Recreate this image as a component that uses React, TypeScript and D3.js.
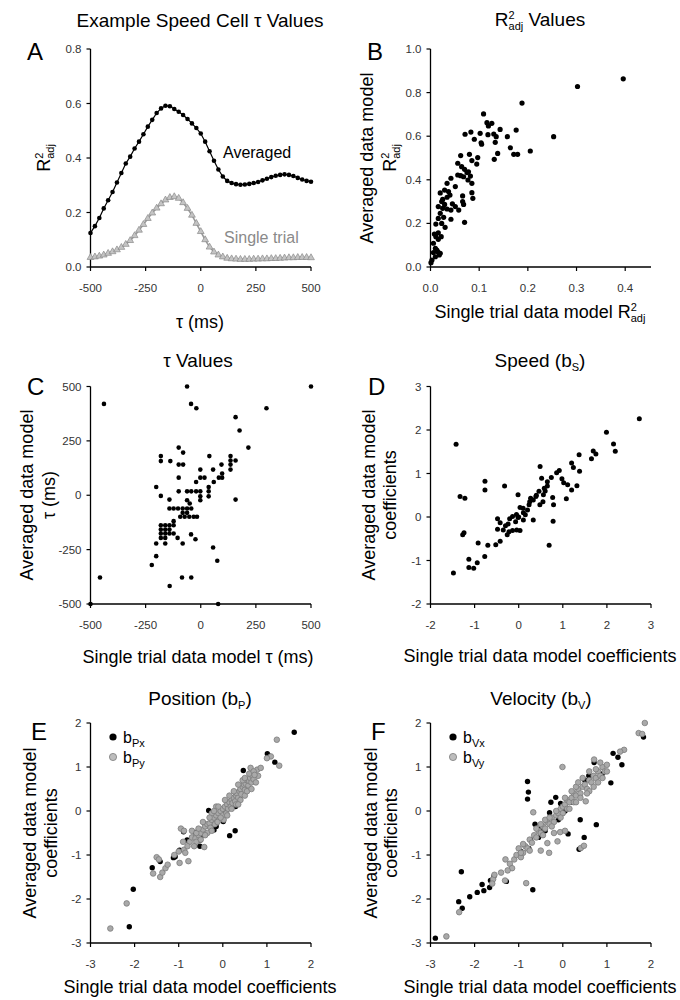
import React from 'react';
import * as d3 from 'd3';

const FONT = '"Liberation Sans", Arial, Helvetica, sans-serif';

// ---------- Panel A data ----------
const tauGrid = [-500,-480,-460,-440,-420,-400,-380,-360,-340,-320,-300,-280,-260,-240,-220,-200,-180,-160,-140,-120,-100,-80,-60,-40,-20,0,20,40,60,80,100,120,140,160,180,200,220,240,260,280,300,320,340,360,380,400,420,440,460,480,500];
const averagedR2 = [0.125,0.15,0.18,0.215,0.245,0.275,0.31,0.345,0.38,0.405,0.435,0.46,0.487,0.515,0.54,0.565,0.582,0.592,0.59,0.58,0.57,0.558,0.543,0.527,0.51,0.49,0.46,0.425,0.39,0.358,0.332,0.316,0.308,0.304,0.302,0.303,0.305,0.308,0.312,0.318,0.324,0.33,0.335,0.338,0.34,0.338,0.334,0.327,0.321,0.316,0.313];
const singleR2 = [0.035,0.037,0.04,0.044,0.05,0.056,0.063,0.072,0.083,0.097,0.115,0.135,0.156,0.178,0.198,0.216,0.232,0.246,0.255,0.258,0.252,0.236,0.215,0.19,0.16,0.13,0.1,0.073,0.055,0.044,0.037,0.032,0.03,0.029,0.028,0.028,0.028,0.029,0.029,0.03,0.03,0.031,0.031,0.032,0.033,0.034,0.034,0.035,0.035,0.035,0.034];
const ticksA_x = [-500,-250,0,250,500];
const ticksA_y = [0,0.2,0.4,0.6,0.8];

// ---------- Panel B data ----------
const r2Points: [number, number][] = [[0.109,0.702],[0.116,0.662],[0.126,0.659],[0.119,0.647],[0.143,0.631],[0.176,0.628],[0.071,0.609],[0.083,0.619],[0.102,0.613],[0.118,0.607],[0.130,0.610],[0.135,0.598],[0.133,0.572],[0.158,0.598],[0.090,0.586],[0.104,0.570],[0.105,0.563],[0.164,0.547],[0.138,0.521],[0.131,0.494],[0.171,0.517],[0.179,0.517],[0.205,0.532],[0.062,0.511],[0.080,0.517],[0.097,0.502],[0.095,0.472],[0.085,0.488],[0.056,0.476],[0.064,0.460],[0.070,0.448],[0.075,0.433],[0.078,0.437],[0.056,0.422],[0.062,0.419],[0.068,0.414],[0.082,0.417],[0.077,0.399],[0.085,0.384],[0.042,0.407],[0.034,0.384],[0.051,0.369],[0.029,0.353],[0.037,0.346],[0.040,0.330],[0.034,0.320],[0.085,0.341],[0.087,0.315],[0.066,0.326],[0.066,0.300],[0.068,0.287],[0.023,0.300],[0.029,0.287],[0.016,0.277],[0.025,0.269],[0.034,0.266],[0.042,0.261],[0.051,0.277],[0.058,0.261],[0.020,0.246],[0.016,0.223],[0.027,0.228],[0.042,0.219],[0.023,0.200],[0.030,0.182],[0.070,0.205],[0.011,0.197],[0.008,0.151],[0.016,0.157],[0.011,0.139],[0.022,0.139],[0.016,0.127],[0.006,0.109],[0.010,0.086],[0.013,0.078],[0.020,0.063],[0.006,0.066],[0.010,0.047],[0.003,0.032],[0.001,0.020],[0.188,0.752],[0.253,0.598],[0.302,0.828],[0.396,0.863],[0.015,0.070],[0.018,0.055],[0.025,0.310],[0.045,0.290],[0.020,0.340]];
const ticksB_x = [0,0.1,0.2,0.3,0.4];
const ticksB_y = [0,0.2,0.4,0.6,0.8,1.0];

// ---------- Panel C data ----------
const tauPoints: [number, number][] = [[158,359],[176,298],[216,219],[-100,219],[-80,196],[-181,180],[-181,157],[-138,157],[-100,141],[-80,141],[39,180],[135,180],[135,160],[158,160],[135,141],[135,118],[94,141],[56,118],[-2,118],[-100,81],[-21,61],[-2,81],[17,81],[59,61],[82,81],[97,81],[97,100],[36,38],[36,18],[36,-5],[-202,38],[-181,-3],[-142,-20],[-100,18],[-62,18],[-43,18],[-21,18],[-2,18],[-2,-5],[-2,-23],[-62,-23],[-50,-38],[158,-20],[-142,-61],[-123,-61],[-103,-61],[-82,-61],[-62,-61],[-43,-61],[-82,-81],[-62,-81],[-93,-99],[-73,-99],[-52,-99],[-32,-99],[-17,-99],[-123,-119],[-181,-138],[-161,-138],[-142,-138],[-123,-138],[-181,-158],[-161,-158],[-142,-158],[-181,-176],[-161,-176],[-142,-176],[-123,-176],[-181,-196],[-161,-196],[-105,-196],[-44,-180],[-24,-202],[-82,-222],[-161,-222],[-202,-222],[-202,-280],[-222,-321],[56,-240],[75,-301],[-62,500],[500,500],[-439,420],[-44,420],[-20,400],[298,400],[-457,-378],[-500,-500],[79,-500],[-141,-417],[-85,-378],[-43,-378]];
const ticksC = [-500,-250,0,250,500];

// ---------- Panel D data ----------
const speedPoints: [number, number][] = [[2.735,2.256],[1.99,1.95],[2.15,1.68],[2.19,1.51],[-1.42,1.67],[1.69,1.52],[1.75,1.45],[1.65,1.34],[1.37,1.43],[1.20,1.24],[1.24,1.14],[1.38,1.05],[0.485,1.16],[0.92,1.07],[0.86,1.02],[-0.765,0.82],[-0.765,0.62],[-0.32,0.71],[0.52,0.89],[0.74,0.91],[0.65,0.81],[0.98,0.88],[1.02,0.79],[1.11,0.74],[1.20,0.62],[1.32,0.72],[1.08,0.42],[-1.33,0.47],[-1.22,0.43],[0.58,0.66],[0.65,0.71],[-0.015,0.51],[0.46,0.59],[0.39,0.47],[0.56,0.51],[0.27,0.43],[0.33,0.39],[0.77,0.45],[0.79,0.28],[0.48,0.28],[0.235,0.28],[0.03,0.22],[0.20,0.16],[0.106,0.10],[-0.05,0.06],[-0.14,0.01],[-0.015,-0.01],[-0.205,-0.04],[-0.48,-0.04],[-0.42,-0.13],[-0.24,-0.16],[-0.07,-0.11],[0.106,-0.07],[0.33,-0.07],[0.78,-0.10],[-0.48,-0.28],[-0.35,-0.30],[-0.22,-0.34],[-0.14,-0.31],[-0.045,-0.30],[0.03,-0.31],[-0.26,-0.41],[-0.42,-0.56],[-0.52,-0.64],[-0.70,-0.65],[-0.92,-0.60],[0.69,-0.65],[-1.24,-0.36],[-1.27,-0.41],[-1.13,-0.97],[-1.13,-1.16],[-1.02,-1.18],[-0.94,-1.05],[-0.77,-0.91],[-1.48,-1.29],[0.15,0.05],[0.25,0.35],[0.40,0.50],[0.60,0.60],[-0.30,-0.20],[0.00,0.00],[0.10,0.20],[0.55,0.35]];
const ticksD = [-2,-1,0,1,2,3];

// ---------- Panel E data ----------
const posXPoints: [number, number][] = [[1.62,1.79],[1.01,1.30],[1.18,1.11],[1.05,1.25],[0.465,0.92],[0.67,0.74],[0.56,0.60],[0.36,0.44],[0.29,0.10],[0.20,0.30],[-0.32,0.01],[0.01,-0.24],[-0.24,-0.27],[-0.20,-0.43],[0.28,-0.45],[0.155,-0.56],[-0.62,-0.49],[-0.89,-0.47],[-0.81,-0.66],[-0.51,-0.66],[-0.52,-0.80],[-0.98,-0.89],[-1.08,-1.04],[-1.12,-1.06],[-1.42,-1.15],[-1.60,-1.29],[-2.03,-1.78],[-2.12,-2.63],[-0.47,-0.55],[-0.10,-0.10],[0.10,0.05],[-0.40,-0.30],[-0.70,-0.60],[-0.30,-0.35],[0.05,-0.05],[-0.15,-0.35],[0.40,0.35],[0.15,0.20]];
const posYPoints: [number, number][] = [[-2.55,-2.67],[-2.18,-2.10],[-1.58,-1.42],[-1.42,-1.50],[-1.37,-1.40],[-1.30,-1.30],[-1.25,-1.22],[-1.50,-1.05],[-1.45,-1.10],[-0.98,-1.18],[-0.78,-1.14],[-1.00,-0.92],[-0.88,-0.88],[-0.95,-0.40],[-0.88,-0.45],[-0.75,-0.70],[-0.70,-0.60],[-0.62,-0.62],[-0.55,-0.55],[-0.50,-0.50],[-0.45,-0.42],[-0.42,-0.82],[-0.40,-0.35],[-0.35,-0.30],[-0.30,-0.28],[-0.28,-0.38],[-0.25,-0.20],[-0.20,-0.15],[-0.18,-0.30],[-0.15,-0.10],[-0.10,-0.05],[-0.08,-0.20],[-0.05,0.00],[0.00,0.05],[0.00,-0.10],[0.05,0.10],[0.08,-0.05],[0.10,0.15],[0.12,0.05],[0.15,0.20],[0.18,0.10],[0.20,0.25],[0.22,0.18],[0.25,0.30],[0.28,0.22],[0.30,0.35],[0.32,0.40],[0.35,0.30],[0.38,0.45],[0.40,0.50],[0.42,0.38],[0.45,0.55],[0.48,0.60],[0.50,0.48],[0.52,0.62],[0.55,0.70],[0.58,0.58],[0.60,0.68],[0.62,0.75],[0.65,0.65],[0.68,0.78],[0.70,0.72],[0.63,0.98],[0.78,0.94],[0.86,0.98],[0.80,0.80],[1.09,1.24],[1.00,1.20],[1.28,1.03],[1.225,1.62],[-0.60,-0.70],[-0.80,-0.80],[-1.10,-1.00],[-0.35,-0.50],[-0.12,-0.25],[0.02,-0.20],[-0.25,-0.05],[-0.15,0.10],[-0.90,-0.70],[-0.85,-0.95],[-0.70,-0.45],[-0.65,-0.80],[-0.60,-0.50],[-0.55,-0.40],[-0.50,-0.65],[-0.45,-0.25],[-0.40,-0.55],[-0.30,-0.15],[-0.25,-0.45],[-0.20,0.00],[-0.10,0.10],[-0.05,-0.15],[0.05,0.25],[0.10,-0.10],[0.15,0.35],[0.20,0.05],[0.25,0.45],[0.30,0.15],[0.35,0.60],[0.40,0.25],[0.45,0.70],[0.50,0.35],[0.55,0.45],[0.60,0.85],[0.65,0.50],[0.70,0.90],[0.75,0.65],[0.72,0.82],[0.50,0.75],[0.35,0.15]];

// ---------- Panel F data ----------
const velXPoints: [number, number][] = [[-0.80,0.67],[-0.78,0.43],[-0.80,0.27],[-0.27,0.20],[-0.16,0.31],[-0.05,0.17],[-0.30,-0.04],[-0.63,-0.30],[-0.50,-0.40],[-0.73,-0.66],[-0.77,-0.85],[-0.95,-0.92],[0.395,-0.20],[0.76,-0.31],[0.12,-0.52],[0.485,-0.60],[0.37,-0.87],[-0.68,-1.79],[-1.28,-1.60],[-1.56,-1.48],[-1.64,-1.58],[-1.66,-1.74],[-1.83,-1.67],[-1.79,-1.81],[-1.94,-1.85],[-2.11,-1.95],[-2.30,-1.38],[-2.36,-2.06],[-2.28,-2.21],[0.71,1.10],[0.59,0.80],[1.09,0.64],[1.14,1.31],[1.25,1.22],[1.34,1.05],[1.83,1.68],[-2.89,-2.89],[-0.10,-0.20],[0.05,0.00],[0.20,0.20],[0.50,0.70],[0.90,0.85],[-0.55,-0.60],[-0.40,-0.45]];
const velYPoints: [number, number][] = [[-2.64,-2.85],[-2.35,-2.30],[-1.58,-1.55],[-1.31,-1.58],[-0.83,-1.64],[-1.60,-1.65],[-1.55,-1.45],[-1.20,-1.20],[-1.15,-1.30],[-1.10,-1.10],[-1.05,-1.00],[-1.00,-0.85],[-0.95,-1.05],[-0.90,-0.95],[-0.85,-0.80],[-0.80,-0.85],[-0.75,-0.65],[-0.70,-0.72],[-0.67,-0.03],[-0.65,-0.55],[-0.60,-0.60],[-0.55,-0.45],[-0.50,-0.50],[-0.45,-0.35],[-0.40,-0.40],[-0.35,-0.73],[-0.31,-0.95],[-0.35,-0.25],[-0.30,-0.30],[-0.25,-0.15],[-0.20,-0.25],[-0.15,-0.10],[-0.12,-0.69],[-0.10,-0.05],[-0.06,-0.48],[-0.05,0.05],[0.00,-0.05],[0.00,0.10],[0.05,0.15],[0.10,0.05],[0.10,0.25],[0.15,0.20],[0.20,0.30],[0.25,0.20],[0.25,0.40],[0.30,0.35],[0.35,0.50],[0.40,0.40],[0.41,-0.84],[0.45,0.55],[0.48,-0.79],[0.50,0.60],[0.52,0.22],[0.55,0.50],[0.60,0.70],[0.65,0.65],[0.70,0.80],[0.71,1.17],[0.75,0.75],[0.80,0.90],[0.85,0.80],[0.90,1.00],[0.95,0.90],[1.00,1.05],[-0.008,1.00],[1.39,1.39],[1.30,1.35],[1.72,1.77],[1.86,2.00],[1.80,1.75],[-0.95,-0.95],[-0.40,-0.20],[0.30,0.55],[0.60,0.45],[-1.40,-1.40],[-1.30,-1.10],[-1.25,-1.35],[-0.90,-0.75],[-0.75,-0.90],[-0.60,-0.40],[-0.50,-0.30],[-0.45,-0.55],[-0.30,-0.15],[-0.25,-0.35],[-0.15,0.00],[-0.05,-0.15],[0.05,0.30],[0.15,0.05],[0.20,0.45],[0.30,0.20],[0.35,0.65],[0.40,0.30],[0.45,0.75],[0.55,0.40],[0.60,0.90],[0.70,0.55],[0.75,0.95],[0.80,0.65],[0.85,1.10],[0.90,0.75],[1.00,0.90],[-0.50,-0.90],[-0.20,-0.50],[0.05,-0.45]];
const ticksEF = [-3,-2,-1,0,1,2];

// ---------- layout ----------
const COL = [[90.5, 311], [430.5, 651]];
const ROW = [[267, 49], [604, 386.5], [943, 723]];

type Scale = d3.ScaleLinear<number, number>;

function Axes({ x, y, xTicks, yTicks, xFmt, yFmt }: { x: Scale; y: Scale; xTicks: number[]; yTicks: number[]; xFmt: (v: number) => string; yFmt: (v: number) => string }) {
  const [x0, x1] = x.range();
  const [y0, y1] = y.range();
  return (
    <g>
      <line x1={x0} x2={x1} y1={y0} y2={y0} stroke="#000" strokeWidth={1.3} />
      <line x1={x0} x2={x0} y1={y0} y2={y1} stroke="#000" strokeWidth={1.3} />
      {xTicks.map((t) => (
        <g key={'x' + t}>
          <line x1={x(t)} x2={x(t)} y1={y0} y2={y0 + 4} stroke="#000" strokeWidth={1.2} />
          <text x={x(t)} y={y0 + 24.5} textAnchor="middle" fontSize={11.5} fill="#333">{xFmt(t)}</text>
        </g>
      ))}
      {yTicks.map((t) => (
        <g key={'y' + t}>
          <line x1={x0 - 4} x2={x0} y1={y(t)} y2={y(t)} stroke="#000" strokeWidth={1.2} />
          <text x={x0 - 9} y={y(t) + 4} textAnchor="end" fontSize={11.5} fill="#333">{yFmt(t)}</text>
        </g>
      ))}
    </g>
  );
}

const R2adj = ({ after }: { after?: string }) => (
  <>
    <tspan>R</tspan>
    <tspan dy={-7} fontSize={11}>2</tspan>
    <tspan dx={-6.1} dy={11} fontSize={11}>adj</tspan>
    {after ? <tspan dy={-4}>{after}</tspan> : null}
  </>
);

const Sub = ({ base, sub, after }: { base: string; sub: string; after?: string }) => (
  <>
    <tspan>{base}</tspan>
    <tspan dy={4} fontSize={11}>{sub}</tspan>
    {after ? <tspan dy={-4}>{after}</tspan> : null}
  </>
);

function Dots({ pts, x, y, r, fill, stroke }: { pts: [number, number][]; x: Scale; y: Scale; r: number; fill: string; stroke?: string }) {
  return (
    <g>
      {pts.map((p, i) => (
        <circle key={i} cx={x(p[0])} cy={y(p[1])} r={r} fill={fill} stroke={stroke || 'none'} strokeWidth={0.8} />
      ))}
    </g>
  );
}

function YTitle({ x, y, children }: { x: number; y: number; children: React.ReactNode }) {
  return (
    <text transform={`translate(${x},${y}) rotate(-90)`} textAnchor="middle" fontSize={18}>{children}</text>
  );
}

export default function App() {
  const fmtInt = (v: number) => String(v);
  const fmt1 = (v: number) => v.toFixed(1);

  // Panel A
  const xA = d3.scaleLinear().domain([-500, 500]).range(COL[0]);
  const yA = d3.scaleLinear().domain([0, 0.8]).range(ROW[0]);
  const lineA = d3.line<number>().x((_, i) => xA(tauGrid[i])).y((d) => yA(d));
  const tri = d3.symbol().type(d3.symbolTriangle).size(20)();

  // Panel B
  const xB = d3.scaleLinear().domain([0, 0.453]).range(COL[1]);
  const yB = d3.scaleLinear().domain([0, 1]).range(ROW[0]);

  // Panel C
  const xC = d3.scaleLinear().domain([-500, 500]).range(COL[0]);
  const yC = d3.scaleLinear().domain([-500, 500]).range(ROW[1]);

  // Panel D
  const xD = d3.scaleLinear().domain([-2, 3]).range(COL[1]);
  const yD = d3.scaleLinear().domain([-2, 3]).range(ROW[1]);

  // Panel E / F
  const xE = d3.scaleLinear().domain([-3, 2]).range(COL[0]);
  const yE = d3.scaleLinear().domain([-3, 2]).range(ROW[2]);
  const xF = d3.scaleLinear().domain([-3, 2]).range(COL[1]);
  const yF = d3.scaleLinear().domain([-3, 2]).range(ROW[2]);

  const grayFill = '#a9a9a9';
  const grayStroke = '#7c7c7c';

  return (
    <svg width={680} height={1000} style={{ position: 'absolute', left: 0, top: 0, background: '#fff' }} fontFamily={FONT}>
      <rect width={680} height={1000} fill="#fff" />

      {/* ---------- A ---------- */}
      <text x={200} y={27} textAnchor="middle" fontSize={19}>Example Speed Cell τ Values</text>
      <text x={27} y={60} fontSize={24}>A</text>
      <Axes x={xA} y={yA} xTicks={ticksA_x} yTicks={ticksA_y} xFmt={fmtInt} yFmt={fmt1} />
      <path d={lineA(singleR2) || ''} fill="none" stroke="#9a9a9a" strokeWidth={1.6} />
      {singleR2.map((v, i) => (
        <path key={'t' + i} d={tri || ''} transform={`translate(${xA(tauGrid[i])},${yA(v)})`} fill="#c4c4c4" stroke="#8a8a8a" strokeWidth={0.7} />
      ))}
      <path d={lineA(averagedR2) || ''} fill="none" stroke="#000" strokeWidth={1.2} />
      {averagedR2.map((v, i) => (
        <circle key={'a' + i} cx={xA(tauGrid[i])} cy={yA(v)} r={2.3} fill="#000" />
      ))}
      <text x={223} y={158} fontSize={16}>Averaged</text>
      <text x={224} y={243} fontSize={16} fill="#8a8a8a">Single trial</text>
      <YTitle x={50} y={158}><R2adj /></YTitle>
      <text x={200} y={328} textAnchor="middle" fontSize={18}>τ (ms)</text>

      {/* ---------- B ---------- */}
      <text x={540} y={26} textAnchor="middle" fontSize={19}><R2adj after=" Values" /></text>
      <text x={367} y={60} fontSize={24}>B</text>
      <Axes x={xB} y={yB} xTicks={ticksB_x} yTicks={ticksB_y} xFmt={fmt1} yFmt={fmt1} />
      <Dots pts={r2Points} x={xB} y={yB} r={2.6} fill="#000" />
      <YTitle x={373} y={158}>Averaged data model</YTitle>
      <YTitle x={396} y={158}><R2adj /></YTitle>
      <text x={540} y={318} textAnchor="middle" fontSize={18}>Single trial data model <R2adj /></text>

      {/* ---------- C ---------- */}
      <text x={198} y={367} textAnchor="middle" fontSize={19}>τ Values</text>
      <text x={27} y={395} fontSize={24}>C</text>
      <Axes x={xC} y={yC} xTicks={ticksC} yTicks={ticksC} xFmt={fmtInt} yFmt={fmtInt} />
      <Dots pts={tauPoints} x={xC} y={yC} r={2.3} fill="#000" />
      <YTitle x={33} y={495}>Averaged data model</YTitle>
      <YTitle x={55} y={495}>τ (ms)</YTitle>
      <text x={198} y={663} textAnchor="middle" fontSize={18}>Single trial data model τ (ms)</text>

      {/* ---------- D ---------- */}
      <text x={540} y={367} textAnchor="middle" fontSize={19}><Sub base="Speed (b" sub="S" after=")" /></text>
      <text x={368} y={395} fontSize={24}>D</text>
      <Axes x={xD} y={yD} xTicks={ticksD} yTicks={ticksD} xFmt={fmtInt} yFmt={fmtInt} />
      <Dots pts={speedPoints} x={xD} y={yD} r={2.5} fill="#000" />
      <YTitle x={375} y={495}>Averaged data model</YTitle>
      <YTitle x={396} y={495}>coefficients</YTitle>
      <text x={540} y={662} textAnchor="middle" fontSize={18}>Single trial data model coefficients</text>

      {/* ---------- E ---------- */}
      <text x={200} y={705} textAnchor="middle" fontSize={19}><Sub base="Position (b" sub="P" after=")" /></text>
      <text x={31} y={740} fontSize={24}>E</text>
      <Axes x={xE} y={yE} xTicks={ticksEF} yTicks={ticksEF} xFmt={fmtInt} yFmt={fmtInt} />
      <Dots pts={posXPoints} x={xE} y={yE} r={2.7} fill="#000" />
      <Dots pts={posYPoints} x={xE} y={yE} r={2.8} fill={grayFill} stroke={grayStroke} />
      <circle cx={113} cy={737} r={3.6} fill="#000" />
      <circle cx={113} cy={757} r={3.6} fill="#bdbdbd" stroke={grayStroke} strokeWidth={0.8} />
      <text x={123} y={743} fontSize={16}><Sub base="b" sub="Px" /></text>
      <text x={123} y={763} fontSize={16}><Sub base="b" sub="Py" /></text>
      <YTitle x={36} y={833}>Averaged data model</YTitle>
      <YTitle x={57} y={833}>coefficients</YTitle>
      <text x={200} y={993} textAnchor="middle" fontSize={18}>Single trial data model coefficients</text>

      {/* ---------- F ---------- */}
      <text x={541} y={705} textAnchor="middle" fontSize={19}><Sub base="Velocity (b" sub="V" after=")" /></text>
      <text x={371} y={740} fontSize={24}>F</text>
      <Axes x={xF} y={yF} xTicks={ticksEF} yTicks={ticksEF} xFmt={fmtInt} yFmt={fmtInt} />
      <Dots pts={velXPoints} x={xF} y={yF} r={2.7} fill="#000" />
      <Dots pts={velYPoints} x={xF} y={yF} r={2.8} fill={grayFill} stroke={grayStroke} />
      <circle cx={453} cy={737} r={3.6} fill="#000" />
      <circle cx={453} cy={757} r={3.6} fill="#bdbdbd" stroke={grayStroke} strokeWidth={0.8} />
      <text x={463} y={743} fontSize={16}><Sub base="b" sub="Vx" /></text>
      <text x={463} y={763} fontSize={16}><Sub base="b" sub="Vy" /></text>
      <YTitle x={377} y={833}>Averaged data model</YTitle>
      <YTitle x={397} y={833}>coefficients</YTitle>
      <text x={540} y={993} textAnchor="middle" fontSize={18}>Single trial data model coefficients</text>
    </svg>
  );
}
